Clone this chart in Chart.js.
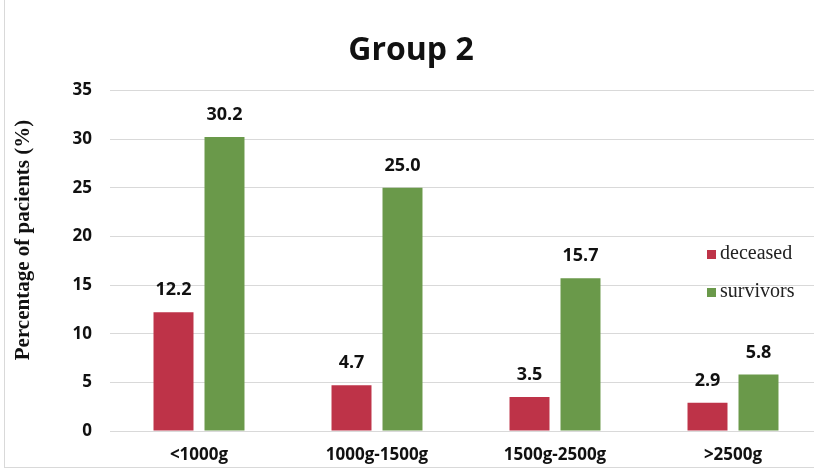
<!DOCTYPE html>
<html>
<head>
<meta charset="utf-8">
<script src="https://cdn.jsdelivr.net/npm/chart.js@4"></script>
<style>
  html, body { margin: 0; padding: 0; background: #fff; overflow: hidden; }
  #wrap { position: relative; width: 814px; height: 470px; overflow: hidden; }
  #frame { position: absolute; left: 4px; top: -2px; width: 820px; height: 470px; border-left: 1px solid #d9d9d9; border-bottom: 1px solid #d9d9d9; box-sizing: border-box; }
  canvas { position: absolute; left: 0; top: 0; }
</style>
</head>
<body>
<div id="wrap">
  <div id="frame"></div>
  <canvas id="chart" width="822" height="470"></canvas>
</div>
<script>
// chart data
const categories = ['<1000g', '1000g-1500g', '1500g-2500g', '>2500g'];
const deceased = [12.2, 4.7, 3.5, 2.9];
const survivors = [30.2, 25.0, 15.7, 5.8];
const yTicks = [0, 5, 10, 15, 20, 25, 30, 35];
const yTitle = 'Percentage of pacients (%)';
const chartTitle = 'Group 2';

const red = '#BE3348';
const green = '#6A994A';

// value labels above each bar
const valueLabels = {
    id: 'valueLabels',
    afterDatasetsDraw(chart) {
        const ctx = chart.ctx;
        ctx.save();
        ctx.font = 'bold 18px "Open Sans"';
        ctx.fillStyle = '#111';
        ctx.textAlign = 'center';
        ctx.textBaseline = 'middle';
        chart.data.datasets.forEach((ds, i) => {
            chart.getDatasetMeta(i).data.forEach((bar, j) => {
                ctx.fillText(ds.data[j].toFixed(1), bar.x, bar.y - 22);
            });
        });
        ctx.restore();
    }
};

// legend drawn inside the plot, plus rotated y title
const sideText = {
    id: 'sideText',
    afterDraw(chart) {
        const ctx = chart.ctx;
        const area = chart.chartArea;
        ctx.save();
        ctx.font = '20px "Liberation Serif"';
        ctx.textBaseline = 'middle';
        ctx.textAlign = 'left';
        chart.data.datasets.forEach((ds, i) => {
            const y = 254 + i * 38;
            const x = area.right - 115;
            ctx.fillStyle = ds.backgroundColor;
            ctx.fillRect(x, y - 4, 9, 9);
            ctx.fillStyle = '#222';
            ctx.fillText(ds.label, x + 13, y);
        });

        ctx.translate(24, 240);
        ctx.rotate(-Math.PI / 2);
        ctx.font = 'bold 21px "Liberation Serif"';
        ctx.textAlign = 'center';
        ctx.fillStyle = '#111';
        ctx.fillText(yTitle, 0, 0);
        ctx.restore();
    }
};

new Chart(document.getElementById('chart'), {
    type: 'bar',
    data: {
        labels: categories,
        datasets: [
            { label: 'deceased', data: deceased, backgroundColor: red },
            { label: 'survivors', data: survivors, backgroundColor: green }
        ]
    },
    options: {
        responsive: false,
        animation: false,
        categoryPercentage: 0.573,
        barPercentage: 0.784,
        layout: { padding: { left: 0, right: 0, top: 0, bottom: 0 } },
        plugins: {
            legend: { display: false },
            tooltip: { enabled: false },
            title: {
                display: true,
                text: chartTitle,
                color: '#111',
                font: { family: 'Open Sans', size: 32, weight: 'bold' },
                padding: { top: 32, bottom: 20 }
            }
        },
        scales: {
            x: {
                grid: { display: false, drawTicks: false },
                border: { display: true, color: '#d9d9d9' },
                ticks: {
                    color: '#111',
                    padding: 14,
                    font: { family: 'Open Sans', size: 17, weight: 'bold' }
                },
                afterFit(scale) { scale.height = 39; }
            },
            y: {
                min: 0,
                max: 35,
                afterBuildTicks(scale) { scale.ticks = yTicks.map(v => ({ value: v })); },
                grid: { color: '#d9d9d9', drawTicks: false },
                border: { display: false },
                ticks: {
                    color: '#111',
                    padding: 18,
                    font: { family: 'Open Sans', size: 17, weight: 'bold' }
                },
                afterFit(scale) { scale.width = 110; }
            }
        }
    },
    plugins: [valueLabels, sideText]
});
</script>
</body>
</html>
